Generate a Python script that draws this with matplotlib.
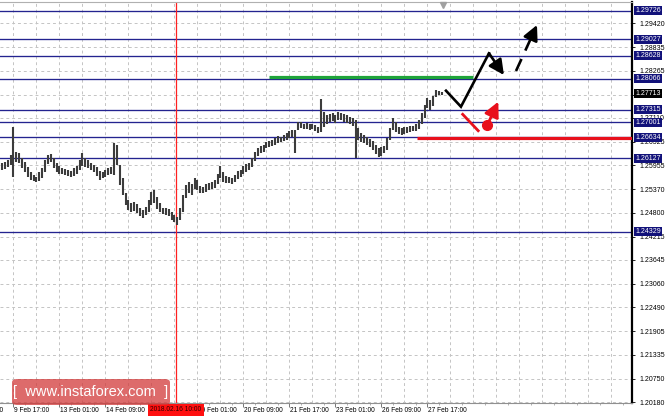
import matplotlib
matplotlib.use('Agg')
import matplotlib.pyplot as plt
import matplotlib.transforms as mtransforms
from matplotlib.patches import FancyBboxPatch

plt.rcParams['font.family'] = ['Liberation Sans', 'DejaVu Sans']

# ---------------- data ----------------
# 2-hour bars, x = trading hours since 9 Feb 17:00
bar_hours = list(range(-8, 300, 2))
highs = [1.2601,1.2603,1.2608,1.2621,1.2689,1.2628,1.2625,1.2613,1.2603,1.2591,
         1.2579,1.2572,1.2567,1.2579,1.2589,1.2608,1.2621,1.2623,1.2613,1.2601,
         1.2594,1.2589,1.2586,1.2584,1.2582,1.2589,1.2594,1.2608,1.2625,1.2613,
         1.2608,1.2601,1.2596,1.2591,1.2582,1.2579,1.2584,1.2589,1.2591,1.2650,
         1.2645,1.2596,1.2564,1.2528,1.2511,1.2503,1.2506,1.2501,1.2491,1.2486,
         1.2494,1.2511,1.2530,1.2535,1.2518,1.2503,1.2491,1.2491,1.2489,1.2481,
         1.2474,1.2469,1.2491,1.2523,1.2547,1.2555,1.2550,1.2564,1.2560,1.2545,
         1.2542,1.2550,1.2552,1.2555,1.2560,1.2574,1.2594,1.2579,1.2569,1.2567,
         1.2564,1.2572,1.2582,1.2584,1.2594,1.2599,1.2601,1.2613,1.2628,1.2638,
         1.2643,1.2645,1.2652,1.2655,1.2657,1.2662,1.2667,1.2664,1.2669,1.2674,
         1.2679,1.2682,1.2682,1.2701,1.2701,1.2696,1.2699,1.2696,1.2696,1.2694,
         1.2689,1.2757,1.2725,1.2718,1.2721,1.2723,1.2718,1.2725,1.2723,1.2721,
         1.2718,1.2713,1.2711,1.2706,1.2686,1.2674,1.2669,1.2664,1.2660,1.2655,
         1.2645,1.2638,1.2640,1.2643,1.2662,1.2686,1.2711,1.2701,1.2689,1.2686,
         1.2689,1.2689,1.2691,1.2691,1.2696,1.2706,1.2723,1.2743,1.2760,1.2755,
         1.2765,1.2779,1.2777,1.2774]
lows = [1.2584,1.2586,1.2591,1.2596,1.2567,1.2603,1.2601,1.2589,1.2579,1.2567,
        1.2560,1.2557,1.2555,1.2557,1.2564,1.2579,1.2599,1.2603,1.2589,1.2579,
        1.2574,1.2574,1.2572,1.2569,1.2567,1.2569,1.2574,1.2584,1.2594,1.2591,
        1.2589,1.2584,1.2579,1.2569,1.2560,1.2564,1.2567,1.2572,1.2574,1.2572,
        1.2596,1.2547,1.2523,1.2499,1.2486,1.2481,1.2484,1.2479,1.2472,1.2467,
        1.2474,1.2481,1.2499,1.2503,1.2489,1.2481,1.2477,1.2474,1.2472,1.2462,
        1.2457,1.2450,1.2462,1.2481,1.2516,1.2528,1.2523,1.2538,1.2535,1.2528,
        1.2528,1.2530,1.2535,1.2538,1.2540,1.2550,1.2564,1.2555,1.2552,1.2552,
        1.2550,1.2555,1.2562,1.2567,1.2574,1.2579,1.2584,1.2591,1.2606,1.2618,
        1.2625,1.2628,1.2638,1.2640,1.2643,1.2645,1.2650,1.2652,1.2655,1.2657,
        1.2662,1.2664,1.2625,1.2682,1.2686,1.2684,1.2684,1.2682,1.2684,1.2679,
        1.2674,1.2677,1.2689,1.2696,1.2701,1.2703,1.2699,1.2706,1.2706,1.2701,
        1.2699,1.2696,1.2691,1.2613,1.2657,1.2652,1.2650,1.2645,1.2640,1.2633,
        1.2623,1.2616,1.2618,1.2625,1.2633,1.2657,1.2682,1.2677,1.2672,1.2669,
        1.2672,1.2674,1.2677,1.2679,1.2679,1.2684,1.2696,1.2711,1.2735,1.2730,
        1.2740,1.2762,1.2767,1.2767]

level_lines = [1.29726, 1.29027, 1.28628, 1.28066, 1.27315, 1.27001, 1.26634, 1.26127, 1.24329]
current_price = 1.27713
grid_prices = [1.29420, 1.28835, 1.28265, 1.27680, 1.27110, 1.26525, 1.25955, 1.25370,
               1.24800, 1.24215, 1.23645, 1.23060, 1.22490, 1.21905, 1.21335, 1.20750, 1.20180]
grid_price_labels = ['1.29420', '1.28835', '1.28265', '', '1.27110', '1.26525', '1.25955', '1.25370',
                     '1.24800', '1.24215', '1.23645', '1.23060', '1.22490', '1.21905', '1.21335',
                     '1.20750', '1.20180']

time_tick_hours = [-32, 0, 32, 64, 96, 128, 160, 192, 224, 256, 288]
time_tick_labels = ['8 Feb 09:00', '9 Feb 17:00', '13 Feb 01:00', '14 Feb 09:00', '15 Feb 17:00',
                    '19 Feb 01:00', '20 Feb 09:00', '21 Feb 17:00', '23 Feb 01:00',
                    '26 Feb 09:00', '27 Feb 17:00']
marker_hour = 113
marker_label = '2018.02.16 10:00'

green_level = 1.2810
green_span = [178, 320]
red_level = 1.2662
red_start = 281

black_path_h = [300.9, 311.3, 330.8, 341.2]
black_path_p = [1.27774, 1.27384, 1.28686, 1.28157]
black_dash_h = [349.6, 364.2]
black_dash_p = [1.28255, 1.29377]
red_seg_h = [312.5, 323.3]
red_seg_p = [1.27198, 1.26798]
red_dot = (329.6, 1.26937)
red_arrow_tip = (337.3, 1.27506)

# ---------------- figure ----------------
W, H = 665, 420
fig = plt.figure(figsize=(W / 100, H / 100), dpi=100)
fig.patch.set_facecolor('white')
ax = fig.add_axes([0, (H - 403) / H, 632 / W, (403 - 2) / H])
ax.set_xlim(-9.39, 430.3)
ax.set_ylim(1.20156, 1.29938)

# grid
for gh in range(0, 432, 16):
    ax.axvline(gh, color='#c4c4c4', lw=0.7, ls=(0, (3, 3)), zorder=0)
for gp in grid_prices:
    ax.axhline(gp, color='#c4c4c4', lw=0.7, ls=(0, (3, 3)), zorder=0)

# level lines
for lv in level_lines:
    ax.axhline(lv, color='#23238f', lw=0.95, zorder=2)

# red vertical marker
ax.axvline(marker_hour, color='#ff2020', lw=0.9, zorder=2)

# price bars
ax.vlines(bar_hours, lows, highs, colors='#3c3c3c', lw=1.5, zorder=3)

# green & red horizontal
ax.plot(green_span, [green_level, green_level], color='#1fa43a', lw=2.3, zorder=4, solid_capstyle='butt')
ax.plot([red_start, 430.3], [red_level, red_level], color='#e8101c', lw=2.3, zorder=4, solid_capstyle='butt')

# black scenario path
ax.plot(black_path_h[:-1], black_path_p[:-1], color='black', lw=1.9, zorder=5, solid_joinstyle='miter')
ax.annotate('', xy=(black_path_h[-1], black_path_p[-1]), xytext=(black_path_h[-2], black_path_p[-2]),
            arrowprops=dict(arrowstyle='-|>,head_length=0.9,head_width=0.45', color='black', lw=1.9,
                            shrinkA=0, shrinkB=0), zorder=5)
# dashed arrow
dh0, dh1 = black_dash_h
dp0, dp1 = black_dash_p
ax.plot([dh0, dh0 + (dh1 - dh0) * 0.75], [dp0, dp0 + (dp1 - dp0) * 0.75], color='black', lw=1.9,
        ls=(0, (5, 3.5)), zorder=5)
ax.annotate('', xy=(dh1, dp1), xytext=(dh0 + (dh1 - dh0) * 0.7, dp0 + (dp1 - dp0) * 0.7),
            arrowprops=dict(arrowstyle='-|>,head_length=0.9,head_width=0.45', color='black', lw=1.9,
                            shrinkA=0, shrinkB=0), zorder=5)

# red scenario
ax.plot(red_seg_h, red_seg_p, color='#e8101c', lw=2.0, zorder=5)
ax.annotate('', xy=red_arrow_tip, xytext=red_dot,
            arrowprops=dict(arrowstyle='-|>,head_length=0.9,head_width=0.45', color='#e8101c', lw=2.0,
                            shrinkA=0, shrinkB=0), zorder=5)
ax.plot([red_dot[0]], [red_dot[1]], 'o', color='#e8101c', ms=7, zorder=6)

# chart shift marker on top
ax.plot([298.8], [0.992], marker='v', color='#a0a0a0', ms=4,
        transform=mtransforms.blended_transform_factory(ax.transData, ax.transAxes), clip_on=False, zorder=6)

# spines
ax.spines['left'].set_visible(False)
ax.spines['top'].set_color('#b0b0b0')
ax.spines['top'].set_linewidth(0.8)
ax.spines['bottom'].set_color('#909090')
ax.spines['bottom'].set_linewidth(0.8)
ax.spines['right'].set_color('black')
ax.spines['right'].set_linewidth(1.6)

# y axis (right)
ax.yaxis.tick_right()
ax.set_yticks(grid_prices)
ax.set_yticklabels(grid_price_labels)
ax.tick_params(axis='y', length=2.5, width=0.6, pad=3, labelsize=5, colors='black')

ytrans = mtransforms.blended_transform_factory(ax.transAxes, ax.transData)
for lv in level_lines:
    ax.text(1.0 + 3.5 / 632, lv, f'{lv:.5f}', transform=ytrans, fontsize=5, color='white',
            va='center', ha='left', zorder=10, clip_on=False,
            bbox=dict(boxstyle='square,pad=0.15', fc='#12127a', ec='none'))
ax.text(1.0 + 3.5 / 632, current_price, f'{current_price:.5f}', transform=ytrans, fontsize=5,
        color='white', va='center', ha='left', zorder=10, clip_on=False,
        bbox=dict(boxstyle='square,pad=0.15', fc='black', ec='none'))

# x axis
ax.set_xticks(time_tick_hours[1:])
ax.set_xticklabels([])
ax.set_xticks(list(range(8, 432, 16)), minor=True)
ax.tick_params(axis='x', which='major', length=3, width=0.6, colors='#606060')
ax.tick_params(axis='x', which='minor', length=1.5, width=0.5, colors='#909090')
xtrans = mtransforms.blended_transform_factory(ax.transData, ax.transAxes)
for th, tl in zip(time_tick_hours, time_tick_labels):
    ax.text(th + 0.6, -0.01, tl, transform=xtrans, fontsize=4.8, color='black', ha='left', va='top',
            clip_on=False, zorder=8)
ax.text(marker_hour, -0.008, marker_label, transform=xtrans, fontsize=4.8, color='#300000',
        ha='center', va='top', clip_on=False, zorder=11,
        bbox=dict(boxstyle='square,pad=0.4', fc='#ff1010', ec='none'))

# watermark
wm = FancyBboxPatch((12 / W, (H - 405) / H), 158 / W, 26 / H, boxstyle='round,pad=0,rounding_size=0.008',
                    transform=fig.transFigure, fc='#d23a3a', ec='none', alpha=0.75, zorder=20)
fig.patches.append(wm)
fig.text(91 / W, (H - 392) / H, '[  www.instaforex.com  ]', color='white', fontsize=10.5,
         ha='center', va='center', zorder=21)

fig.savefig('out.png', dpi=100, facecolor='white')
